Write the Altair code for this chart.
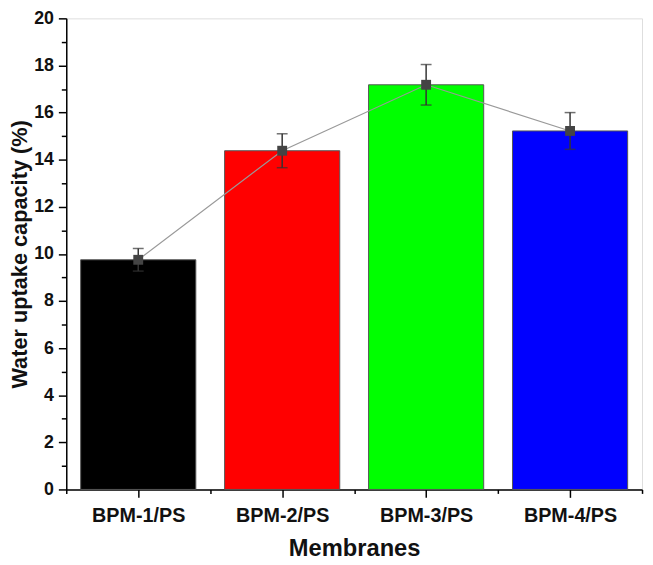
import altair as alt
import pandas as pd

membranes = ["BPM-1/PS", "BPM-2/PS", "BPM-3/PS", "BPM-4/PS"]
uptake = [9.75, 14.38, 17.18, 15.22]
errors = [0.48, 0.72, 0.86, 0.78]
bar_colors = ["#000000", "#FF0000", "#00FF00", "#0000FF"]

df = pd.DataFrame({
    "membrane": membranes,
    "pos": list(range(1, len(membranes) + 1)),
    "uptake": uptake,
    "err": errors,
    "color": bar_colors,
})

FONT = "Liberation Sans"

label_map = "{" + ",".join(f"'{i + 1}':'{m}'" for i, m in enumerate(membranes)) + "}"

x_axis = alt.Axis(
    title="Membranes",
    values=[0.5 + 0.5 * i for i in range(9)],
    labelExpr=f"datum.value % 1 === 0 ? {label_map}[format(datum.value, 'd')] : ''",
    tickSize={"condition": {"test": "datum.value % 1 === 0", "value": 8}, "value": 4},
    grid=False,
    labelFont=FONT, labelFontSize=20, labelFontWeight="bold", labelColor="#111",
    labelPadding=8,
    titleFont=FONT, titleFontSize=24, titleFontWeight="bold", titleColor="#111",
    titlePadding=12,
    domainColor="#000", domainWidth=1.5, tickColor="#000", tickWidth=1.5,
    labelFlush=False, labelOverlap=False,
)
x_scale = alt.Scale(domain=[0.5, 4.5], nice=False, zero=False)

y_axis = alt.Axis(
    title="Water uptake capacity (%)",
    values=list(range(0, 21)),
    labelExpr="datum.value % 2 === 0 ? datum.label : ''",
    tickSize={"condition": {"test": "datum.value % 2 === 0", "value": 8}, "value": 5},
    grid=False,
    labelFont=FONT, labelFontSize=18, labelFontWeight="bold", labelColor="#111",
    labelPadding=5,
    titleFont=FONT, titleFontSize=22, titleFontWeight="bold", titleColor="#111",
    titlePadding=2,
    domainColor="#000", domainWidth=1.5, tickColor="#000", tickWidth=1.5,
    labelOverlap=False,
)
y_scale = alt.Scale(domain=[0, 20], nice=False)

base = alt.Chart(df).transform_calculate(
    lo="datum.pos - 0.4",
    hi="datum.pos + 0.4",
    elo="datum.uptake - datum.err",
    ehi="datum.uptake + datum.err",
)

bars = base.mark_bar(stroke="#555", strokeWidth=1).encode(
    x=alt.X("lo:Q", scale=x_scale, axis=x_axis),
    x2="hi:Q",
    y=alt.Y("uptake:Q", scale=y_scale, axis=y_axis),
    y2=alt.datum(0),
    color=alt.Color("color:N", scale=None),
)

line = base.mark_line(color="#999", strokeWidth=1.2).encode(
    x=alt.X("pos:Q", scale=x_scale, axis=x_axis),
    y=alt.Y("uptake:Q", scale=y_scale, axis=y_axis),
)

err = base.mark_errorbar(ticks={"size": 11, "color": "#333", "thickness": 1.5},
                         color="#333", thickness=1.5).encode(
    x=alt.X("pos:Q", scale=x_scale, axis=x_axis),
    y=alt.Y("elo:Q", scale=y_scale, axis=y_axis),
    y2="ehi:Q",
)

pts = base.mark_square(size=100, color="#444", opacity=1).encode(
    x=alt.X("pos:Q", scale=x_scale, axis=x_axis),
    y=alt.Y("uptake:Q", scale=y_scale, axis=y_axis),
)

chart = alt.layer(bars, line, err, pts).properties(
    width=583,
    height=477,
    autosize=alt.AutoSizeParams(type="none"),
    padding={"left": 59, "top": 7, "right": 3, "bottom": 72},
).configure_view(stroke="#000", strokeWidth=1.5).configure(background="white")

chart.save("out.html", embed_options={"renderer": "svg", "actions": False})
